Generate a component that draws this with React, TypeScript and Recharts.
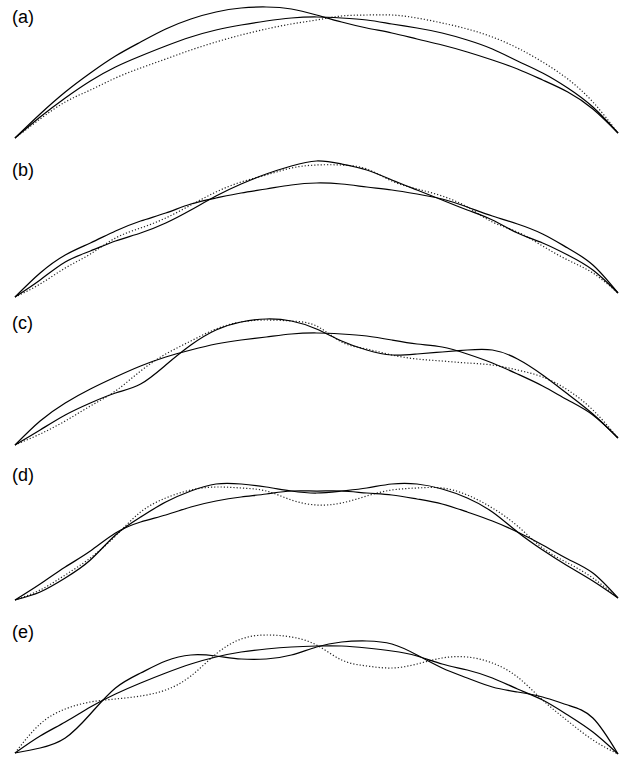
import React from 'react';
import { LineChart, Line, XAxis, YAxis } from 'recharts';

// Stations along the span (0 = left support, 24 = right support)
const stations = [0, 1, 2, 3, 4, 5, 6, 7, 8, 9, 10, 11, 12, 13, 14, 15, 16, 17, 18, 19, 20, 21, 22, 23, 24];

const panelLabels = ['(a)', '(b)', '(c)', '(d)', '(e)'];

// (a)
const baseA = [2, 23, 42, 59, 73, 84, 94, 103, 110, 115, 119, 122, 123, 122, 120, 116, 112, 107, 100, 91, 79, 67, 52, 33, 7];
const solidA = [2, 26, 48, 67, 84, 98, 111, 121, 128, 132, 133, 131, 125, 118, 112, 107, 101, 95, 88, 80, 71, 60, 48, 31, 7];
const dottedA = [2, 21, 38, 50, 62, 72, 81, 90, 98, 105, 111, 116, 120, 124, 125, 125, 122, 117, 111, 103, 92, 78, 61, 38, 7];

// (b)
const baseB = [3, 27, 45, 57, 69, 79, 87, 96, 102, 107, 111, 115, 117, 116, 113, 110, 106, 101, 93, 84, 76, 66, 52, 35, 7];
const solidB = [3, 20, 38, 49, 59, 67, 77, 90, 104, 116, 126, 134, 139, 136, 130, 120, 110, 100, 90, 80, 67, 57, 45, 30, 7];
const dottedB = [3, 16, 32, 46, 62, 72, 82, 95, 108, 118, 125, 132, 135, 135, 131, 119, 111, 104, 93, 78, 68, 54, 40, 27, 7];

// (c)
const baseC = [3, 27, 45, 59, 71, 82, 91, 98, 104, 108, 111, 114, 115, 114, 112, 108, 104, 101, 94, 85, 74, 62, 48, 33, 10];
const solidC = [3, 18, 33, 45, 55, 64, 83, 103, 118, 126, 129, 127, 119, 107, 98, 93, 94, 96, 98, 98, 89, 73, 54, 34, 10];
const dottedC = [3, 14, 27, 42, 57, 77, 94, 107, 119, 126, 128, 127, 122, 106, 99, 93, 89, 87, 85, 83, 78, 71, 58, 38, 10];

// (d)
const baseD = [2, 18, 35, 51, 69, 80, 87, 95, 101, 105, 108, 111, 111, 111, 109, 107, 103, 98, 90, 81, 70, 57, 43, 29, 4];
const solidD = [2, 10, 24, 42, 67, 85, 100, 111, 118, 118, 115, 111, 109, 111, 114, 118, 118, 113, 104, 90, 70, 52, 36, 21, 4];
const dottedD = [2, 12, 27, 44, 66, 90, 104, 112, 115, 114, 111, 102, 97, 99, 106, 112, 114, 114, 107, 94, 76, 54, 39, 24, 4];

// (e)
const baseE = [4, 21, 35, 50, 63, 74, 84, 93, 100, 105, 108, 110, 111, 111, 109, 106, 101, 93, 87, 79, 68, 57, 42, 25, 3];
const solidE = [4, 9, 19, 43, 69, 84, 96, 102, 101, 98, 98, 102, 110, 115, 116, 113, 102, 89, 79, 70, 65, 60, 52, 39, 3];
const dottedE = [4, 33, 48, 55, 58, 61, 67, 81, 103, 118, 122, 120, 112, 97, 91, 89, 93, 99, 100, 94, 80, 57, 36, 17, 3];

const series = [
  [baseA, solidA, dottedA],
  [baseB, solidB, dottedB],
  [baseC, solidC, dottedC],
  [baseD, solidD, dottedD],
  [baseE, solidE, dottedE],
];

// Layout of each strip: baseline row and strip height (1 unit = 1 px)
const layout = [
  { bottom: 140, height: 140, labelY: 23 },
  { bottom: 300, height: 160, labelY: 176 },
  { bottom: 448, height: 148, labelY: 329 },
  { bottom: 602, height: 154, labelY: 481 },
  { bottom: 757, height: 155, labelY: 638 },
];

const WIDTH = 619;
const HEIGHT = 766;

function Strip({ idx }: { idx: number }) {
  const [base, solid, dotted] = series[idx];
  const { bottom, height } = layout[idx];
  const data = stations.map((s, i) => ({ s, base: base[i], solid: solid[i], dotted: dotted[i] }));
  return (
    <div style={{ position: 'absolute', left: 0, top: bottom - height }}>
      <LineChart width={WIDTH} height={height} data={data} margin={{ top: 0, right: 1, bottom: 0, left: 15 }}>
        <XAxis type="number" dataKey="s" domain={[0, 24]} hide />
        <YAxis type="number" domain={[0, height]} hide />
        <Line dataKey="dotted" type="natural" stroke="#222" strokeWidth={1.2} strokeDasharray="1.2 2" dot={false} isAnimationActive={false} />
        <Line dataKey="base" type="natural" stroke="#000" strokeWidth={1.25} dot={false} isAnimationActive={false} />
        <Line dataKey="solid" type="natural" stroke="#000" strokeWidth={1.25} dot={false} isAnimationActive={false} />
      </LineChart>
    </div>
  );
}

export default function App() {
  return (
    <div style={{ position: 'absolute', left: 0, top: 0, width: WIDTH, height: HEIGHT, background: '#fff', overflow: 'hidden' }}>
      {series.map((_, i) => (
        <Strip key={i} idx={i} />
      ))}
      <svg width={WIDTH} height={HEIGHT} style={{ position: 'absolute', left: 0, top: 0, pointerEvents: 'none' }}>
        {panelLabels.map((t, i) => (
          <text key={t} x={12} y={layout[i].labelY} fontFamily="'Liberation Sans', Arial, sans-serif" fontSize={18} fill="#000">
            {t}
          </text>
        ))}
      </svg>
    </div>
  );
}
